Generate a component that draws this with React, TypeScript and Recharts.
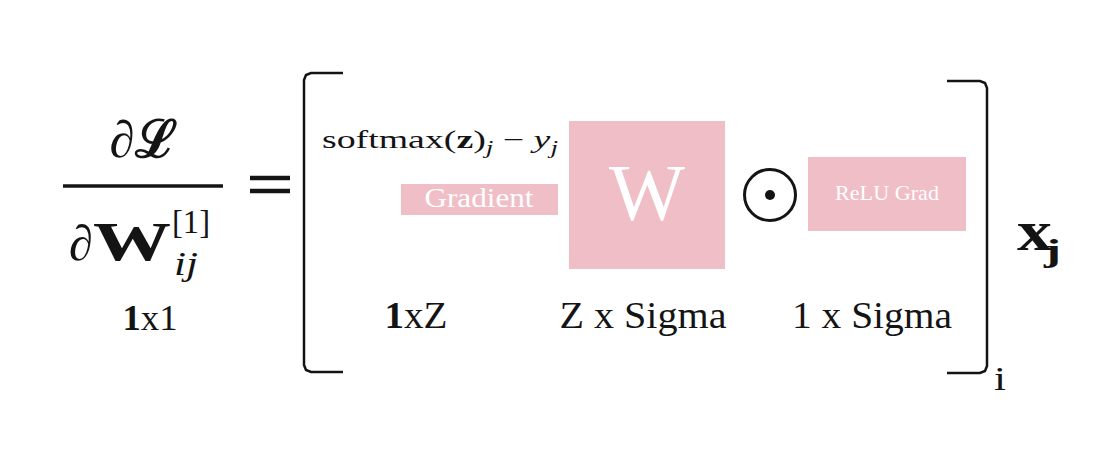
import React from 'react';
import { ComposedChart, XAxis, YAxis, Scatter, ReferenceArea, ReferenceLine } from 'recharts';

// Diagram coordinate space: x 0..1109, y 0..452 (y grows downward)
const boxes = [
  { id: 'gradient', x1: 401, x2: 558, y1: 184, y2: 215 },
  { id: 'weight', x1: 569, x2: 725, y1: 121, y2: 269 },
  { id: 'relu', x1: 808, x2: 966, y1: 157, y2: 231 },
];

const texts = [
  { id: 'dL', x: 143, y: 157, text: '∂ℒ' },
  { id: 'dpart', x: 69, y: 260, text: '∂' },
  { id: 'Wbold', x: 93, y: 260, text: 'W' },
  { id: 'sup1', x: 172, y: 233, text: '[1]' },
  { id: 'subij', x: 174, y: 275, text: 'ij' },
  { id: 'dim1x1', x: 150, y: 330, text: '1|x1' },
  { id: 'softmax', x: 322, y: 148, text: 'softmax' },
  { id: 'gradLabel', x: 479, y: 207, text: 'Gradient' },
  { id: 'wLabel', x: 647, y: 220, text: 'W' },
  { id: 'reluLabel', x: 887, y: 200, text: 'ReLU Grad' },
  { id: 'dim1xZ', x: 416, y: 328, text: '1|xZ' },
  { id: 'dimZS', x: 643, y: 328, text: 'Z x Sigma' },
  { id: 'dim1S', x: 872, y: 328, text: '1 x Sigma' },
  { id: 'xbold', x: 1017, y: 250, text: 'x' },
  { id: 'jbold', x: 1044, y: 261, text: 'j' },
  { id: 'isub', x: 994, y: 390, text: 'i' },
];

const leftBracket = [
  { x: 343, y: 73 }, { x: 311, y: 73 }, { x: 306, y: 75 }, { x: 304, y: 80 },
  { x: 304, y: 365 }, { x: 306, y: 370 }, { x: 311, y: 372 }, { x: 343, y: 372 },
];
const rightBracket = [
  { x: 947, y: 81 }, { x: 980, y: 81 }, { x: 985, y: 83 }, { x: 987, y: 88 },
  { x: 987, y: 366 }, { x: 985, y: 371 }, { x: 980, y: 373 }, { x: 947, y: 373 },
];

const odot = [{ x: 770, y: 195 }];

const fractionBar = [{ x: 63, y: 186 }, { x: 223, y: 186 }];
const equalsTop = [{ x: 250, y: 178 }, { x: 290, y: 178 }];
const equalsBottom = [{ x: 250, y: 191 }, { x: 290, y: 191 }];

const PINK = '#F0BEC7';
const INK = '#141414';
const SERIF = "'Liberation Serif', 'DejaVu Serif', serif";

type Style = {
  size: number;
  anchor?: 'start' | 'middle' | 'end';
  weight?: string;
  italic?: boolean;
  fill?: string;
  len?: number;
};

const styles: Record<string, Style> = {
  dL: { size: 52, anchor: 'middle', weight: 'bold', len: 67 },
  dpart: { size: 50, italic: true, len: 24 },
  Wbold: { size: 54, weight: 'bold', len: 78 },
  sup1: { size: 33, len: 38 },
  subij: { size: 33, italic: true, len: 24 },
  dim1x1: { size: 35, anchor: 'middle', len: 55 },
  softmax: { size: 25, len: 236 },
  gradLabel: { size: 27, anchor: 'middle', fill: '#ffffff', len: 109 },
  wLabel: { size: 80, anchor: 'middle', fill: '#ffffff', len: 76 },
  reluLabel: { size: 21, anchor: 'middle', fill: '#ffffff', len: 104 },
  dim1xZ: { size: 37, anchor: 'middle', len: 63 },
  dimZS: { size: 38, anchor: 'middle', len: 167 },
  dim1S: { size: 38, anchor: 'middle', len: 160 },
  xbold: { size: 56, weight: 'bold', len: 35 },
  jbold: { size: 32, weight: 'bold', len: 17 },
  isub: { size: 34, len: 12 },
};

const renderContent = (id: string, text: string) => {
  if (id === 'softmax') {
    return (
      <>
        <tspan>softmax(</tspan>
        <tspan fontWeight="bold">z</tspan>
        <tspan>)</tspan>
        <tspan fontStyle="italic" fontSize={18} dy={6}>j</tspan>
        <tspan dy={-6}> − </tspan>
        <tspan fontStyle="italic">y</tspan>
        <tspan fontStyle="italic" fontSize={18} dy={6}>j</tspan>
      </>
    );
  }
  if (text.includes('|')) {
    const [a, b] = text.split('|');
    return (
      <>
        <tspan fontWeight="bold">{a}</tspan>
        <tspan>{b}</tspan>
      </>
    );
  }
  return text;
};

const TextShape = (props: any) => {
  const { cx, cy, payload } = props;
  if (cx == null || cy == null || !payload) return <g />;
  const s = styles[payload.id] || { size: 20 };
  return (
    <text
      x={cx}
      y={cy}
      fontFamily={SERIF}
      fontSize={s.size}
      fontWeight={s.weight || 'normal'}
      fontStyle={s.italic ? 'italic' : 'normal'}
      textAnchor={s.anchor || 'start'}
      fill={s.fill || INK}
      textLength={s.len}
      lengthAdjust="spacingAndGlyphs"
    >
      {renderContent(payload.id, payload.text)}
    </text>
  );
};

const OdotShape = (props: any) => {
  const { cx, cy } = props;
  if (cx == null || cy == null) return <g />;
  return (
    <g>
      <circle cx={cx} cy={cy} r={25.5} fill="none" stroke={INK} strokeWidth={3} />
      <circle cx={cx} cy={cy} r={5} fill={INK} />
    </g>
  );
};

const NoShape = () => <g />;

const lineStyle = { stroke: INK, strokeWidth: 2.5, fill: 'none' };

export default function App() {
  return (
    <div style={{ position: 'absolute', left: 0, top: 0, width: 1109, height: 452, background: '#ffffff' }}>
      <ComposedChart width={1109} height={452} margin={{ top: 0, right: 0, bottom: 0, left: 0 }}>
        <XAxis type="number" dataKey="x" domain={[0, 1109]} hide allowDataOverflow />
        <YAxis type="number" dataKey="y" domain={[0, 452]} reversed hide allowDataOverflow />
        {boxes.map((b) => (
          <ReferenceArea
            key={b.id}
            x1={b.x1}
            x2={b.x2}
            y1={b.y1}
            y2={b.y2}
            fill={PINK}
            fillOpacity={1}
            stroke="none"
          />
        ))}
        <ReferenceLine segment={fractionBar} stroke={INK} strokeWidth={3.5} />
        <ReferenceLine segment={equalsTop} stroke={INK} strokeWidth={4.5} />
        <ReferenceLine segment={equalsBottom} stroke={INK} strokeWidth={4.5} />
        <Scatter data={leftBracket} line={lineStyle} shape={NoShape} isAnimationActive={false} />
        <Scatter data={rightBracket} line={lineStyle} shape={NoShape} isAnimationActive={false} />
        <Scatter data={odot} shape={OdotShape} isAnimationActive={false} />
        <Scatter data={texts} shape={TextShape} isAnimationActive={false} />
      </ComposedChart>
    </div>
  );
}
